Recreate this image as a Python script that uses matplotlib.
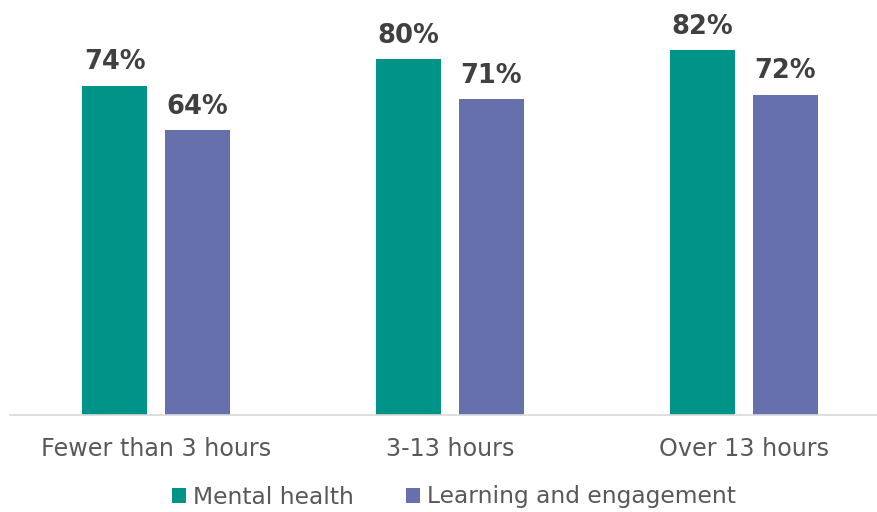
import matplotlib
matplotlib.use("Agg")
import matplotlib.pyplot as plt
import numpy as np

# hours of contact per week vs share of pupils reporting benefit
categories = ["Fewer than 3 hours", "3-13 hours", "Over 13 hours"]
mental_health = [74, 80, 82]
learning = [64, 71, 72]
series_names = ["Mental health", "Learning and engagement"]
colors = ["#009387", "#6670AC"]

plt.rcParams['font.family'] = ['DejaVu Sans']

fig = plt.figure(figsize=(8.78, 5.12), dpi=100)
ax = fig.add_axes([10 / 878, 97 / 512, 868 / 878, 415 / 512])

x = np.arange(len(categories))
width = 0.221
offset = 0.141

for i, (vals, name, col) in enumerate(zip([mental_health, learning], series_names, colors)):
    pos = x + (offset if i else -offset)
    bars = ax.bar(pos, vals, width, color=col, label=name)
    for b, v in zip(bars, vals):
        ax.annotate(f"{v}%", (b.get_x() + b.get_width() / 2, v),
                    xytext=(0, 7.5), textcoords="offset points",
                    ha="center", va="bottom", fontsize=18.5,
                    fontweight="bold", color="#404040")

ax.set_xlim(-0.497, 2.456)
ax.set_ylim(0, 93.3)
ax.set_xticks(x)
ax.set_xticklabels(categories, fontsize=17.2, color="#595959")
ax.tick_params(axis="x", length=0, pad=15.5)
ax.set_yticks([])
for side in ["top", "right", "left"]:
    ax.spines[side].set_visible(False)
ax.spines["bottom"].set_color("#D9D9D9")
ax.spines["bottom"].set_linewidth(1.2)

fig.legend(loc="center", bbox_to_anchor=(454 / 878, 1 - 497 / 512), ncol=2,
           frameon=False, fontsize=16.8, labelcolor="#595959",
           handlelength=0.6, handleheight=0.6, handletextpad=0.3,
           columnspacing=2.2)

fig.savefig("out.png", dpi=100)
